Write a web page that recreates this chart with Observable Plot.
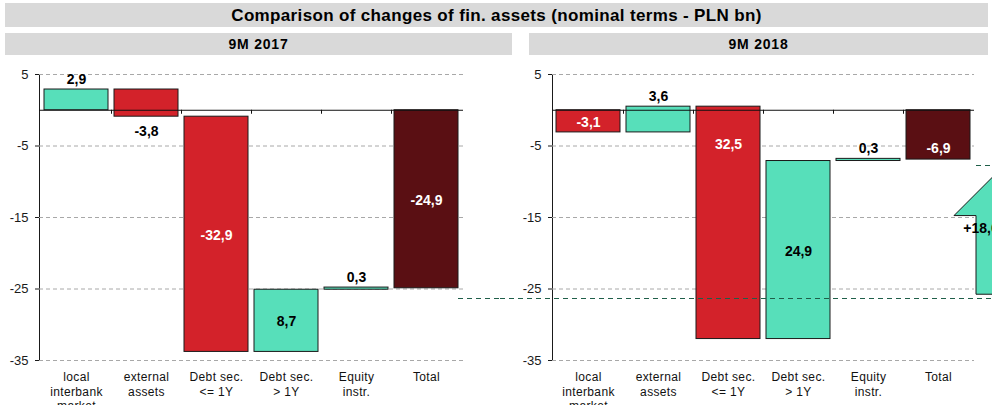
<!DOCTYPE html>
<html><head><meta charset="utf-8">
<script src="https://cdn.jsdelivr.net/npm/d3@7"></script>
<script src="https://cdn.jsdelivr.net/npm/@observablehq/plot@0.6"></script>
<style>
html,body{margin:0;padding:0;background:#fff;}
body{width:992px;height:405px;overflow:hidden;position:relative;font-family:"Liberation Sans",Arial,sans-serif;}
.bar{position:absolute;background:#d9d9d9;text-align:center;font-weight:bold;color:#000;}
#title{left:5px;top:3px;width:983px;height:24px;line-height:25px;font-size:17px;letter-spacing:0.35px;}
.hdr{top:33px;height:22px;line-height:23px;font-size:14px;letter-spacing:0.8px;}
#h1{left:5px;width:507px;}
#h2{left:529px;width:459px;}
.panel{position:absolute;top:58px;height:347px;}
#p1{left:0;width:500px;}
#p2{left:500px;width:492px;}
.panel svg{max-width:none !important;display:block;}
.panel svg g[font-size="12"] text{letter-spacing:0.35px;}
</style></head>
<body>
<div id="title" class="bar">Comparison of changes of fin. assets (nominal terms - PLN bn)</div>
<div id="h1" class="bar hdr">9M 2017</div>
<div id="h2" class="bar hdr">9M 2018</div>
<div id="p1" class="panel"></div>
<div id="p2" class="panel"></div>
<script>
// ---- data ----
const categories = ["local\ninterbank\nmarket", "external\nassets", "Debt sec.\n<= 1Y", "Debt sec.\n> 1Y", "Equity\ninstr.", "Total"];
const kinds = ["step", "step", "step", "step", "step", "total"];
const changes2017 = [2.9, -3.8, -32.9, 8.7, 0.3, -24.9];
const changes2018 = [-3.1, 3.6, -32.5, 24.9, 0.3, -6.9];
const labels2017 = ["2,9", "-3,8", "-32,9", "8,7", "0,3", "-24,9"];
const labels2018 = ["-3,1", "3,6", "32,5", "24,9", "0,3", "-6,9"];
const yTicks = [5, -5, -15, -25, -35];
const yDomain = [-35, 5];
const connectorLevels = [-26.4, -7.8];   // dashed bridge lines
const arrowSpan = [-25.8, -14.8];        // arrow shaft bottom, arrow head base
const arrowLabel = "+18,0";

// ---- styles ----
const colors = {up: "#57dfba", down: "#d3222a", total: "#5a0f13"};
const labelPlacement = {
  "9M 2017": ["above", "below", "mid", "mid", "above", "mid"],
  "9M 2018": ["mid", "above", "top", "mid", "above", "top"]
};
const placementDy = {above: -10, below: 15, top: 38, mid: 1};
const FONT = '"Liberation Sans", Arial, sans-serif';

function waterfall(changes, labels, period) {
  let run = 0;
  return categories.map((c, i) => {
    const total = kinds[i] === "total";
    const start = total ? 0 : run;
    const end = total ? changes[i] : run + changes[i];
    if (!total) run = end;
    const kind = total ? "total" : changes[i] >= 0 ? "up" : "down";
    const place = labelPlacement[period][i];
    const inside = place === "mid" || place === "top";
    return {category: c, start, end, label: labels[i], kind, place,
      white: inside && kind !== "up"};
  });
}

function labelY(d) {
  const hi = Math.max(d.start, d.end), lo = Math.min(d.start, d.end);
  if (d.place === "above" || d.place === "top") return hi;
  if (d.place === "below") return lo;
  return (hi + lo) / 2;
}

function labelMarks(data) {
  const marks = [];
  for (const place of Object.keys(placementDy)) {
    for (const white of [false, true]) {
      const subset = data.filter(d => d.place === place && d.white === white);
      if (!subset.length) continue;
      marks.push(Plot.text(subset, {x: "category", y: labelY, dy: placementDy[place], text: "label",
        fill: white ? "#fff" : "#000", fontWeight: "bold", fontSize: 14}));
    }
  }
  return marks;
}

function bandTicks(index, scales) {
  const {x, y} = scales;
  const g = d3.create("svg:g");
  const bw = x.bandwidth(), gap = x.step() - bw;
  categories.slice(0, -1).forEach(c => {
    const bx = Math.round(x(c) + bw + gap / 2) + 0.5;
    g.append("line").attr("x1", bx).attr("x2", bx)
      .attr("y1", y(0)).attr("y2", y(0) + 4).attr("stroke", "#111");
  });
  return g.node();
}

function leftConnector(index, scales, values, dims) {
  const {x, y} = scales;
  const g = d3.create("svg:g");
  g.append("line")
    .attr("x1", x("Total") + x.bandwidth()).attr("x2", dims.width)
    .attr("y1", y(connectorLevels[0])).attr("y2", y(connectorLevels[0]))
    .attr("stroke", "#1f5f49").attr("stroke-width", 1.2).attr("stroke-dasharray", "5,4");
  return g.node();
}

function rightArrow(index, scales, values, dims) {
  const {x, y} = scales;
  const g = d3.create("svg:g");
  const bw = x.bandwidth();
  const sl = x("Total") + x.step(), sr = sl + bw, cx = sl + bw / 2;
  const yb = y(arrowSpan[0]), yh = y(arrowSpan[1]);
  const half = bw / 2 + 22;
  const apex = yh - half;
  g.append("path")
    .attr("d", `M${sl},${yb}L${sl},${yh}L${cx - half},${yh}L${cx},${apex}L${cx + half},${yh}L${sr},${yh}L${sr},${yb}Z`)
    .attr("fill", colors.up).attr("stroke", "#1a1a1a").attr("stroke-width", 1);
  g.append("text").attr("x", sl + 5).attr("y", yh + 13)
    .attr("dy", "0.35em").attr("font-weight", "bold").attr("font-size", 14)
    .attr("fill", "#000").text(arrowLabel);
  g.append("line")
    .attr("x1", 0).attr("x2", dims.width)
    .attr("y1", y(connectorLevels[0])).attr("y2", y(connectorLevels[0]))
    .attr("stroke", "#1f5f49").attr("stroke-width", 1.2).attr("stroke-dasharray", "5,4");
  g.append("line")
    .attr("x1", sl).attr("x2", dims.width + 100)
    .attr("y1", y(connectorLevels[1])).attr("y2", y(connectorLevels[1]))
    .attr("stroke", "#1f5f49").attr("stroke-width", 1.2).attr("stroke-dasharray", "5,4");
  return g.node();
}

function panel(period, changes, labels, size, extra) {
  const data = waterfall(changes, labels, period);
  return Plot.plot({
    width: size.width, height: 347,
    marginLeft: size.marginLeft, marginRight: size.marginRight,
    marginTop: 16, marginBottom: 45,
    style: {fontFamily: FONT, fontSize: "13px", color: "#1a1a1a", background: "transparent"},
    x: {domain: categories, paddingInner: 0.09, paddingOuter: 0.045, axis: null},
    y: {domain: yDomain, ticks: yTicks, tickFormat: d => String(d), tickSize: 4, tickPadding: 7, line: true, label: null},
    color: {domain: ["up", "down", "total"], range: [colors.up, colors.down, colors.total]},
    marks: [
      Plot.ruleY(yTicks, {stroke: "#a8a8a8", strokeDasharray: "4,3"}),
      Plot.barY(data, {x: "category", y1: "start", y2: "end", fill: "kind", stroke: "#1a1a1a", strokeWidth: 1}),
      Plot.ruleY([0], {stroke: "#111"}),
      bandTicks,
      ...labelMarks(data),
      Plot.text(categories, {x: d => d, text: d => d, frameAnchor: "bottom", lineAnchor: "top",
        dy: 11, fontSize: 12, lineHeight: 1.17, fill: "#111"}),
      extra
    ]
  });
}

document.getElementById("p1").appendChild(
  panel("9M 2017", changes2017, labels2017, {width: 500, marginLeft: 39, marginRight: 37}, leftConnector));
document.getElementById("p2").appendChild(
  panel("9M 2018", changes2018, labels2018, {width: 492, marginLeft: 52, marginRight: 18}, rightArrow));
</script>
</body></html>
